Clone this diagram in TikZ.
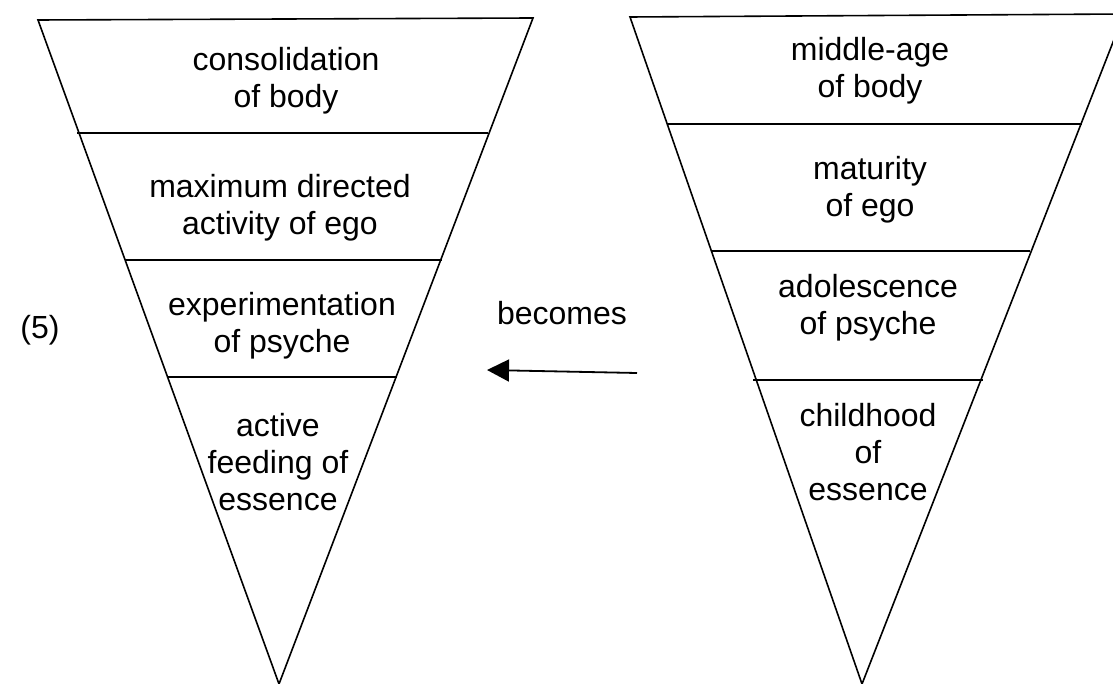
\documentclass[tikz,border=0pt]{standalone}
\usepackage{fontspec}
\setmainfont{Liberation Sans}
\usetikzlibrary{arrows.meta}
\begin{document}
\begin{tikzpicture}[x=1pt,y=-1pt,
  edge/.style={line width=1.6pt,black},
  lbl/.style={align=center,font=\fontsize{32}{37}\selectfont,inner sep=0pt}]
\useasboundingbox (0,0) rectangle (1113,684);
\clip (0,0) rectangle (1113,684);
% left funnel
\coordinate (LTL) at (38,20);
\coordinate (LTR) at (533,18);
\coordinate (LA) at (279,684);
\draw[edge] (LA) -- (LTL) -- (LTR) -- (LA);
\draw[edge] (77,133) -- (488,133);
\draw[edge] (125,260) -- (442,260);
\draw[edge] (167,377) -- (397,377);
% right funnel
\coordinate (RTL) at (630,17);
\coordinate (RTR) at (1124,14);
\coordinate (RA) at (862,684);
\draw[edge] (RA) -- (RTL) -- (RTR) -- (RA);
\draw[edge] (667,124) -- (1082,124);
\draw[edge] (712,251) -- (1030,251);
\draw[edge] (753,380) -- (983,380);
% labels left
\node[lbl] (l1) at (286,81) {consolidation\\of body};
\node[lbl] (l2) at (280,208) {maximum directed\\activity of ego};
\node[lbl] (l3) at (282,326) {experimentation\\of psyche};
\node[lbl] (l4) at (278,462) {active\\feeding of\\essence};
% labels right
\node[lbl] (r1) at (870,71) {middle-age\\of body};
\node[lbl] (r2) at (870,190) {maturity\\of ego};
\node[lbl] (r3) at (868,308) {adolescence\\of psyche};
\node[lbl] (r4) at (868,452) {childhood\\of\\essence};
% others
\node[lbl] (becomes) at (562,313) {becomes};
\node[lbl] (five) at (40,330) {(5)};
\coordinate (astart) at (637,373);
\coordinate (aend) at (487,370);
\draw[line width=1.8pt,-{Triangle[length=22pt,width=22pt]}] (astart) -- (aend);
\end{tikzpicture}
\end{document}
